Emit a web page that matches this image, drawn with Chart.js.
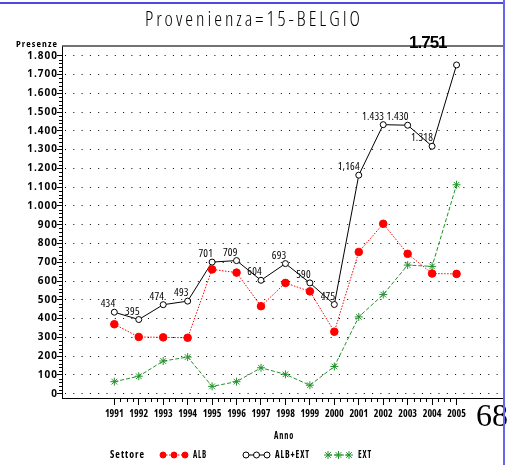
<!DOCTYPE html>
<html>
<head>
<meta charset="utf-8">
<script src="https://cdn.jsdelivr.net/npm/chart.js@4.4.1/dist/chart.umd.min.js"></script>
<style>
  html, body { margin: 0; padding: 0; background: #fff; }
  #wrap { width: 512px; height: 465px; position: relative; }
</style>
</head>
<body>
<div id="wrap"><canvas id="myChart" width="512" height="465"></canvas></div>
<script>
// data
const years = [1991, 1992, 1993, 1994, 1995, 1996, 1997, 1998, 1999, 2000, 2001, 2002, 2003, 2004, 2005];
const alb = [370, 302, 300, 298, 662, 645, 466, 590, 545, 330, 755, 905, 745, 640, 638];
const albExt = [434, 395, 474, 493, 701, 709, 604, 693, 590, 475, 1164, 1433, 1430, 1318, 1751];
const ext = [64, 93, 174, 195, 39, 64, 138, 103, 45, 145, 409, 528, 685, 678, 1113];
const albExtLabels = ["434", "395", "474", "493", "701", "709", "604", "693", "590", "475", "1,164", "1.433", "1.430", "1.318", "1.751"];
const yTicks = [0, 100, 200, 300, 400, 500, 600, 700, 800, 900, 1000, 1100, 1200, 1300, 1400, 1500, 1600, 1700, 1800];

const FAM = '"Open Sans", sans-serif';
const RED = "#ff0000";
const GREEN = "#22922a";
const BLACK = "#000000";

function fmt(v) {
  // italian thousands separator
  const s = String(v);
  return s.length > 3 ? s.slice(0, s.length - 3) + "." + s.slice(-3) : s;
}

function pts(arr) {
  return years.map((y, i) => ({ x: y, y: arr[i] }));
}

// squeeze a text into a given width
function fitText(ctx, text, x, y, w, align) {
  const m = ctx.measureText(text).width;
  ctx.save();
  ctx.translate(x, y);
  ctx.scale(w / m, 1);
  ctx.textAlign = align;
  ctx.fillText(text, 0, 0);
  ctx.restore();
}

function setFont(ctx, f, stretch, spacing) {
  ctx.font = f;
  ctx.fontStretch = stretch || "normal";
  ctx.letterSpacing = spacing || "0px";
}

// draws the title, frame, minor ticks, point labels and the legend
const extras = {
  id: "extras",
  afterDraw(chart) {
    const ctx = chart.ctx;
    const area = chart.chartArea;
    const xs = chart.scales.x;
    const ys = chart.scales.y;
    ctx.save();
    ctx.fillStyle = "#000";
    ctx.textBaseline = "middle";

    // title
    setFont(ctx, "300 20px " + FAM, "condensed", "3px");
    fitText(ctx, "Provenienza=15-BELGIO", 145, 20, 218, "left");

    // y title
    setFont(ctx, "bold 9px " + FAM, "condensed", "1px");
    fitText(ctx, "Presenze", 16, 44, 42, "left");

    // y tick labels
    setFont(ctx, "bold 10px " + FAM, "normal", "1px");
    ctx.textAlign = "right";
    yTicks.forEach(v => {
      ctx.fillText(fmt(v), area.left - 4, ys.getPixelForValue(v));
    });

    // top frame line
    ctx.strokeStyle = "#444";
    ctx.lineWidth = 1.5;
    ctx.beginPath();
    ctx.moveTo(area.left, area.top);
    ctx.lineTo(area.right, area.top);
    ctx.stroke();

    // minor ticks y
    ctx.strokeStyle = "#000";
    ctx.lineWidth = 1;
    ctx.beginPath();
    for (let v = 0; v < 1800; v += 20) {
      if (v % 100 === 0) continue;
      const py = Math.round(ys.getPixelForValue(v)) + 0.5;
      ctx.moveTo(area.left - 3, py);
      ctx.lineTo(area.left, py);
    }
    // minor ticks x
    for (let i = 0; i < years.length - 1; i++) {
      for (let k = 1; k < 4; k++) {
        const px = Math.round(xs.getPixelForValue(years[i] + k / 4)) + 0.5;
        ctx.moveTo(px, area.bottom);
        ctx.lineTo(px, area.bottom + 4);
      }
    }
    ctx.stroke();

    // point labels for ALB+EXT
    const meta = chart.getDatasetMeta(1);
    ctx.textAlign = "right";
    ctx.textBaseline = "alphabetic";
    meta.data.forEach((p, i) => {
      if (i === meta.data.length - 1) {
        setFont(ctx, "bold 17px \"Liberation Sans\", sans-serif", "normal", "-1px");
        ctx.fillText(albExtLabels[i], p.x - 10, p.y - 17);
      } else {
        setFont(ctx, "11px " + FAM, "condensed", "0.2px");
        ctx.fillText(albExtLabels[i], p.x + 1, p.y - 5);
      }
    });

    // x axis title
    ctx.textBaseline = "middle";
    setFont(ctx, "bold 10px " + FAM, "condensed", "1px");
    fitText(ctx, "Anno", 274, 436, 20, "left");

    // legend
    const ly = 455;
    fitText(ctx, "Settore", 110, ly, 35, "left");
    fitText(ctx, "ALB", 193, ly, 14, "left");
    fitText(ctx, "ALB+EXT", 275, ly, 35, "left");
    fitText(ctx, "EXT", 358, ly, 14, "left");
    ctx.letterSpacing = "0px";

    const ds = chart.data.datasets;
    const legendItems = [
      { d: ds[0], x0: 163, x1: 185 },
      { d: ds[1], x0: 246, x1: 267 },
      { d: ds[2], x0: 328, x1: 349 }
    ];
    legendItems.forEach(it => {
      const d = it.d;
      ctx.strokeStyle = d.borderColor;
      ctx.lineWidth = 1;
      ctx.setLineDash(d.borderDash || []);
      ctx.beginPath();
      ctx.moveTo(it.x0, ly);
      ctx.lineTo(it.x1, ly);
      ctx.stroke();
      ctx.setLineDash([]);
      for (let k = 0; k < 3; k++) {
        const px = it.x0 + (it.x1 - it.x0) * k / 2;
        ctx.fillStyle = d.pointBackgroundColor;
        ctx.strokeStyle = d.pointBorderColor;
        ctx.lineWidth = 1;
        Chart.helpers.drawPoint(ctx, {
          pointStyle: d.pointStyle,
          radius: d.pointStyle === "circle" ? 3 : d.pointRadius,
          borderWidth: 1
        }, px, ly);
      }
    });

    // stray page stuff: "68" and blue edges
    ctx.fillStyle = "#000";
    setFont(ctx, "32px \"Liberation Serif\", serif", "normal", "0px");
    ctx.textAlign = "left";
    ctx.textBaseline = "alphabetic";
    ctx.fillText("68", 476, 426);

    ctx.fillStyle = "#4a4ae0";
    ctx.fillRect(0, 2, 504, 2);
    ctx.fillStyle = "#6565ee";
    ctx.fillRect(503, 0, 2, 465);
    ctx.restore();
  }
};

const ctx = document.getElementById("myChart").getContext("2d");
const chart = new Chart(ctx, {
  type: "line",
  data: {
    datasets: [
      {
        label: "ALB",
        data: pts(alb),
        borderColor: RED,
        borderWidth: 1,
        borderDash: [1.5, 1.5],
        pointStyle: "circle",
        pointRadius: 3.8,
        pointBackgroundColor: RED,
        pointBorderColor: RED,
        pointBorderWidth: 1
      },
      {
        label: "ALB+EXT",
        data: pts(albExt),
        borderColor: BLACK,
        borderWidth: 1,
        pointStyle: "circle",
        pointRadius: 3,
        pointBackgroundColor: "#fff",
        pointBorderColor: BLACK,
        pointBorderWidth: 1
      },
      {
        label: "EXT",
        data: pts(ext),
        borderColor: GREEN,
        borderWidth: 1,
        borderDash: [4, 2],
        pointStyle: "star",
        pointRadius: 4,
        pointBackgroundColor: GREEN,
        pointBorderColor: GREEN,
        pointBorderWidth: 1
      }
    ]
  },
  options: {
    responsive: false,
    animation: false,
    layout: { padding: { left: 0, top: 46, right: 9, bottom: 0 } },
    plugins: {
      legend: { display: false },
      tooltip: { enabled: false }
    },
    elements: { line: { tension: 0 } },
    scales: {
      x: {
        type: "linear",
        min: 1988.86,
        max: 2006.9,
        afterBuildTicks: (s) => { s.ticks = years.map(v => ({ value: v })); },
        afterFit: (s) => { s.height = 67; },
        ticks: {
          autoSkip: false,
          maxRotation: 0,
          padding: 3,
          color: "#000",
          font: { family: FAM, size: 10, weight: "bold condensed" },
          callback: (v) => String(v)
        },
        grid: {
          drawOnChartArea: false,
          tickLength: 7,
          tickColor: "#000"
        },
        border: { color: "#000", width: 1 }
      },
      y: {
        min: -23,
        max: 1852,
        afterBuildTicks: (s) => { s.ticks = yTicks.map(v => ({ value: v })); },
        afterFit: (s) => { s.width = 62; },
        ticks: { display: false },
        grid: {
          color: "#000",
          lineWidth: 1,
          tickLength: 5,
          tickColor: "#000",
          tickBorderDash: []
        },
        border: { color: "#000", width: 1, dash: [1, 7.3], dashOffset: -2 }
      }
    }
  },
  plugins: [extras]
});
</script>
</body>
</html>
